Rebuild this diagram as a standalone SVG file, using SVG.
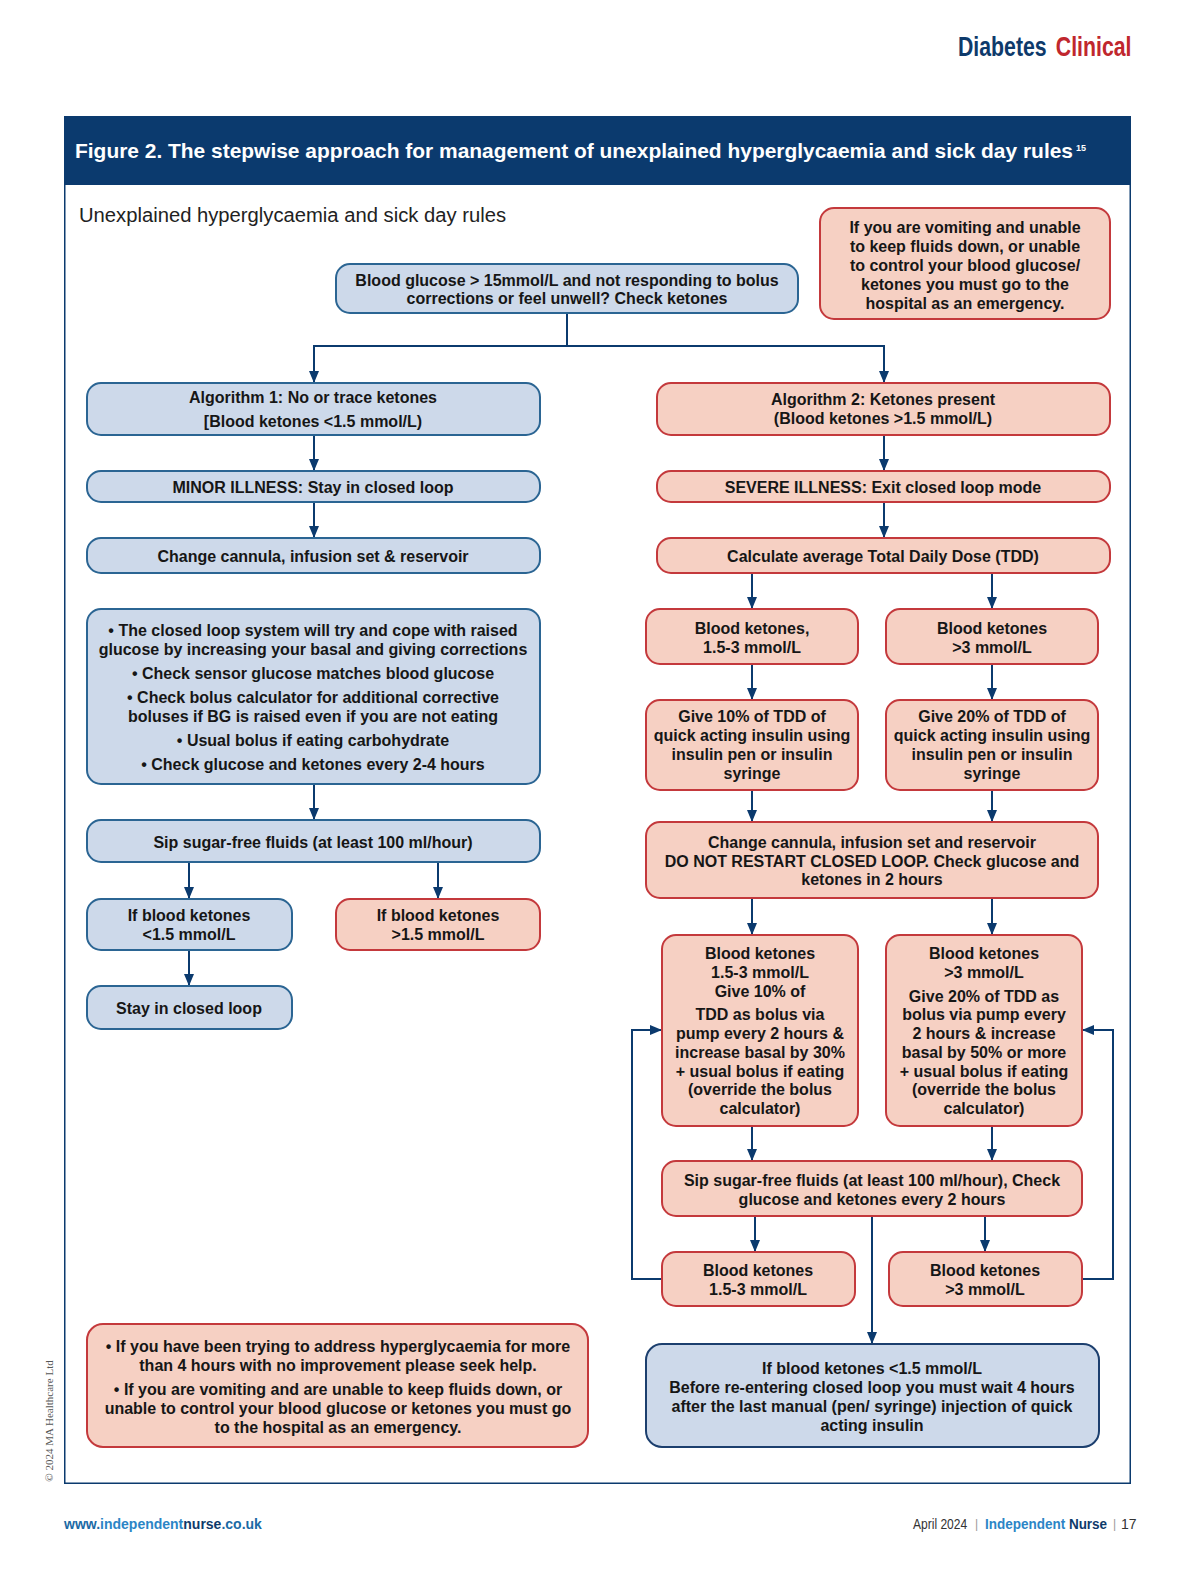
<svg xmlns="http://www.w3.org/2000/svg" width="1200" height="1575" viewBox="0 0 1200 1575">
<style>
.bg{fill:#ffffff}
.bx{stroke-width:2}
.blue{fill:#cdd9ea;stroke:#2b6593}
.red{fill:#f6d0c3;stroke:#c4393c}
.navyb{fill:#cdd9ea;stroke:#1c3f6e}
.t{font-family:"Liberation Sans",Arial,sans-serif;font-weight:bold;font-size:16px;fill:#161616;text-anchor:middle}
.conn{fill:none;stroke:#0b3a6e;stroke-width:2}
.ft{font-family:"Liberation Sans",Arial,sans-serif}
</style>
<defs>
<marker id="ah" markerUnits="userSpaceOnUse" markerWidth="12" markerHeight="12" viewBox="0 0 12 12" refX="11" refY="6" orient="auto">
<path d="M0,1 L12,6 L0,11 Z" fill="#0b3a6e"/>
</marker>
</defs>
<rect class="bg" x="0" y="0" width="1200" height="1575"/>

<g id="page-header">
<text class="ft" transform="translate(958,56) scale(0.76,1)" font-weight="bold" font-size="28"><tspan fill="#0e3a6b">Diabetes</tspan><tspan fill="#c0272d" dx="12">Clinical</tspan></text>
</g>

<g id="frame">
<rect x="64" y="116" width="1067" height="69" fill="#0b3a6e"/>
<path d="M64.75,185 V1483.25 H1130.25 V185" fill="none" stroke="#0b3a6e" stroke-width="1.5"/>
<text class="ft" x="75" y="158" font-weight="bold" font-size="21" fill="#ffffff" textLength="998" lengthAdjust="spacingAndGlyphs">Figure 2. The stepwise approach for management of unexplained hyperglycaemia and sick day rules</text>
<text class="ft" x="1076" y="151" font-weight="bold" font-size="9" fill="#ffffff">15</text>
<text class="ft" x="79" y="222" font-size="20" fill="#222222" textLength="427" lengthAdjust="spacingAndGlyphs">Unexplained hyperglycaemia and sick day rules</text>
</g>

<g id="connectors">
<path class="conn" d="M567,313 V346"/>
<path class="conn" d="M313,346 H885"/>
<path class="conn" d="M314,346 V382" marker-end="url(#ah)"/>
<path class="conn" d="M884,346 V382" marker-end="url(#ah)"/>
<path class="conn" d="M314,435 V470" marker-end="url(#ah)"/>
<path class="conn" d="M884,435 V470" marker-end="url(#ah)"/>
<path class="conn" d="M314,502 V537" marker-end="url(#ah)"/>
<path class="conn" d="M884,502 V537" marker-end="url(#ah)"/>
<path class="conn" d="M314,784 V819" marker-end="url(#ah)"/>
<path class="conn" d="M189,862 V898" marker-end="url(#ah)"/>
<path class="conn" d="M438,862 V898" marker-end="url(#ah)"/>
<path class="conn" d="M189,950 V985" marker-end="url(#ah)"/>
<path class="conn" d="M752,573 V608" marker-end="url(#ah)"/>
<path class="conn" d="M992,573 V608" marker-end="url(#ah)"/>
<path class="conn" d="M752,664 V699" marker-end="url(#ah)"/>
<path class="conn" d="M992,664 V699" marker-end="url(#ah)"/>
<path class="conn" d="M752,790 V821" marker-end="url(#ah)"/>
<path class="conn" d="M992,790 V821" marker-end="url(#ah)"/>
<path class="conn" d="M752,898 V934" marker-end="url(#ah)"/>
<path class="conn" d="M992,898 V934" marker-end="url(#ah)"/>
<path class="conn" d="M752,1126 V1160" marker-end="url(#ah)"/>
<path class="conn" d="M992,1126 V1160" marker-end="url(#ah)"/>
<path class="conn" d="M755,1216 V1251" marker-end="url(#ah)"/>
<path class="conn" d="M985,1216 V1251" marker-end="url(#ah)"/>
<path class="conn" d="M872,1216 V1343" marker-end="url(#ah)"/>
<path class="conn" d="M662,1279 H632 V1030 H661" marker-end="url(#ah)"/>
<path class="conn" d="M1082,1279 H1113 V1030 H1083" marker-end="url(#ah)"/>
</g>

<g id="n-top"><rect class="bx blue" x="336" y="264" width="462" height="49" rx="14"/>
<text class="t" x="567" y="286">Blood glucose &gt; 15mmol/L and not responding to bolus<tspan x="567" dy="18">corrections or feel unwell? Check ketones</tspan></text></g>

<g id="n-warning"><rect class="bx red" x="820" y="208" width="290" height="111" rx="14"/>
<text class="t" x="965" y="233">If you are vomiting and unable<tspan x="965" dy="19">to keep fluids down, or unable</tspan><tspan x="965" dy="19">to control your blood glucose/</tspan><tspan x="965" dy="19">ketones you must go to the</tspan><tspan x="965" dy="19">hospital as an emergency.</tspan></text></g>

<g id="n-alg1"><rect class="bx blue" x="87" y="383" width="453" height="52" rx="14"/>
<text class="t" x="313" y="403">Algorithm 1: No or trace ketones<tspan x="313" dy="24">[Blood ketones &lt;1.5 mmol/L)</tspan></text></g>

<g id="n-alg2"><rect class="bx red" x="657" y="383" width="453" height="52" rx="14"/>
<text class="t" x="883" y="405">Algorithm 2: Ketones present<tspan x="883" dy="19">(Blood ketones &gt;1.5 mmol/L)</tspan></text></g>

<g id="n-minor"><rect class="bx blue" x="87" y="471" width="453" height="31" rx="14"/>
<text class="t" x="313" y="493">MINOR ILLNESS: Stay in closed loop</text></g>

<g id="n-severe"><rect class="bx red" x="657" y="471" width="453" height="31" rx="14"/>
<text class="t" x="883" y="493">SEVERE ILLNESS: Exit closed loop mode</text></g>

<g id="n-change1"><rect class="bx blue" x="87" y="538" width="453" height="35" rx="14"/>
<text class="t" x="313" y="562">Change cannula, infusion set &amp; reservoir</text></g>

<g id="n-tdd"><rect class="bx red" x="657" y="538" width="453" height="35" rx="14"/>
<text class="t" x="883" y="562">Calculate average Total Daily Dose (TDD)</text></g>

<g id="n-bullets"><rect class="bx blue" x="87" y="609" width="453" height="175" rx="14"/>
<text class="t" x="313" y="636">• The closed loop system will try and cope with raised<tspan x="313" dy="19">glucose by increasing your basal and giving corrections</tspan><tspan x="313" dy="24">• Check sensor glucose matches blood glucose</tspan><tspan x="313" dy="24">• Check bolus calculator for additional corrective</tspan><tspan x="313" dy="19">boluses if BG is raised even if you are not eating</tspan><tspan x="313" dy="24">• Usual bolus if eating carbohydrate</tspan><tspan x="313" dy="24">• Check glucose and ketones every 2-4 hours</tspan></text></g>

<g id="n-sip1"><rect class="bx blue" x="87" y="820" width="453" height="42" rx="14"/>
<text class="t" x="313" y="848">Sip sugar-free fluids (at least 100 ml/hour)</text></g>

<g id="n-low"><rect class="bx blue" x="87" y="899" width="205" height="51" rx="14"/>
<text class="t" x="189" y="921">If blood ketones<tspan x="189" dy="19">&lt;1.5 mmol/L</tspan></text></g>

<g id="n-high"><rect class="bx red" x="336" y="899" width="204" height="51" rx="14"/>
<text class="t" x="438" y="921">If blood ketones<tspan x="438" dy="19">&gt;1.5 mmol/L</tspan></text></g>

<g id="n-stay"><rect class="bx blue" x="87" y="986" width="205" height="43" rx="14"/>
<text class="t" x="189" y="1014">Stay in closed loop</text></g>

<g id="n-k1"><rect class="bx red" x="646" y="609" width="212" height="55" rx="14"/>
<text class="t" x="752" y="634">Blood ketones,<tspan x="752" dy="19">1.5-3 mmol/L</tspan></text></g>

<g id="n-k2"><rect class="bx red" x="886" y="609" width="212" height="55" rx="14"/>
<text class="t" x="992" y="634">Blood ketones<tspan x="992" dy="19">&gt;3 mmol/L</tspan></text></g>

<g id="n-g10"><rect class="bx red" x="646" y="700" width="212" height="90" rx="14"/>
<text class="t" x="752" y="722">Give 10% of TDD of<tspan x="752" dy="19">quick acting insulin using</tspan><tspan x="752" dy="19">insulin pen or insulin</tspan><tspan x="752" dy="19">syringe</tspan></text></g>

<g id="n-g20"><rect class="bx red" x="886" y="700" width="212" height="90" rx="14"/>
<text class="t" x="992" y="722">Give 20% of TDD of<tspan x="992" dy="19">quick acting insulin using</tspan><tspan x="992" dy="19">insulin pen or insulin</tspan><tspan x="992" dy="19">syringe</tspan></text></g>

<g id="n-change2"><rect class="bx red" x="646" y="822" width="452" height="76" rx="14"/>
<text class="t" x="872" y="848">Change cannula, infusion set and reservoir<tspan x="872" dy="19">DO NOT RESTART CLOSED LOOP. Check glucose and</tspan><tspan x="872" dy="18">ketones in 2 hours</tspan></text></g>

<g id="n-b1"><rect class="bx red" x="662" y="935" width="196" height="191" rx="14"/>
<text class="t" x="760" y="959">Blood ketones<tspan x="760" dy="19">1.5-3 mmol/L</tspan><tspan x="760" dy="19">Give 10% of</tspan><tspan x="760" dy="23">TDD as bolus via</tspan><tspan x="760" dy="19">pump every 2 hours &amp;</tspan><tspan x="760" dy="19">increase basal by 30%</tspan><tspan x="760" dy="19">+ usual bolus if eating</tspan><tspan x="760" dy="18">(override the bolus</tspan><tspan x="760" dy="19">calculator)</tspan></text></g>

<g id="n-b2"><rect class="bx red" x="886" y="935" width="196" height="191" rx="14"/>
<text class="t" x="984" y="959">Blood ketones<tspan x="984" dy="19">&gt;3 mmol/L</tspan><tspan x="984" dy="24">Give 20% of TDD as</tspan><tspan x="984" dy="18">bolus via pump every</tspan><tspan x="984" dy="19">2 hours &amp; increase</tspan><tspan x="984" dy="19">basal by 50% or more</tspan><tspan x="984" dy="19">+ usual bolus if eating</tspan><tspan x="984" dy="18">(override the bolus</tspan><tspan x="984" dy="19">calculator)</tspan></text></g>

<g id="n-sip2"><rect class="bx red" x="662" y="1161" width="420" height="55" rx="14"/>
<text class="t" x="872" y="1186">Sip sugar-free fluids (at least 100 ml/hour), Check<tspan x="872" dy="19">glucose and ketones every 2 hours</tspan></text></g>

<g id="n-r1"><rect class="bx red" x="662" y="1252" width="193" height="54" rx="14"/>
<text class="t" x="758" y="1276">Blood ketones<tspan x="758" dy="19">1.5-3 mmol/L</tspan></text></g>

<g id="n-r2"><rect class="bx red" x="889" y="1252" width="193" height="54" rx="14"/>
<text class="t" x="985" y="1276">Blood ketones<tspan x="985" dy="19">&gt;3 mmol/L</tspan></text></g>

<g id="n-final"><rect class="bx navyb" x="646" y="1344" width="453" height="103" rx="16"/>
<text class="t" x="872" y="1374">If blood ketones &lt;1.5 mmol/L<tspan x="872" dy="19">Before re-entering closed loop you must wait 4 hours</tspan><tspan x="872" dy="19">after the last manual (pen/ syringe) injection of quick</tspan><tspan x="872" dy="19">acting insulin</tspan></text></g>

<g id="n-help"><rect class="bx red" x="87" y="1324" width="501" height="123" rx="16"/>
<text class="t" x="338" y="1352">• If you have been trying to address hyperglycaemia for more<tspan x="338" dy="19">than 4 hours with no improvement please seek help.</tspan><tspan x="338" dy="24">• If you are vomiting and are unable to keep fluids down, or</tspan><tspan x="338" dy="19">unable to control your blood glucose or ketones you must go</tspan><tspan x="338" dy="19">to the hospital as an emergency.</tspan></text></g>

<g id="copyright">
<text transform="translate(53,1421) rotate(-90)" font-family="Liberation Serif,Times New Roman,serif" font-size="11" fill="#555555" text-anchor="middle">© 2024 MA Healthcare Ltd</text>
</g>

<g id="footer">
<text class="ft" x="64" y="1529" font-weight="bold" font-size="14"><tspan fill="#1b6aa5">www.</tspan><tspan fill="#2b85c6">independent</tspan><tspan fill="#0e3a6b">nurse</tspan><tspan fill="#1b6aa5">.co.uk</tspan></text>
<text class="ft" transform="translate(913,1529) scale(0.86,1)" font-size="14" fill="#333333">April 2024</text>
<text class="ft" x="975" y="1528" font-size="12" fill="#999999">|</text>
<text class="ft" transform="translate(985,1529) scale(0.9,1)" font-weight="bold" font-size="15"><tspan fill="#2b85c6">Independent</tspan><tspan fill="#0e3a6b"> Nurse</tspan></text>
<text class="ft" x="1113" y="1528" font-size="12" fill="#999999">|</text>
<text class="ft" x="1121" y="1529" font-size="14" fill="#333333">17</text>
</g>
</svg>
